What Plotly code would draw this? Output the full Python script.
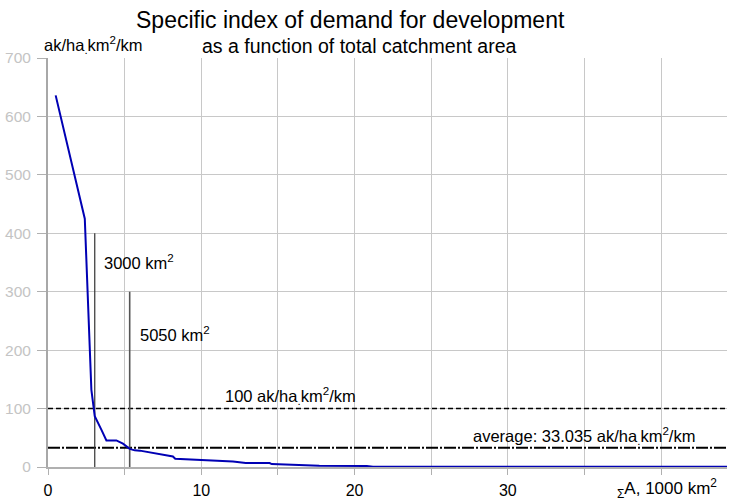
import plotly.graph_objects as go

# ---- data ----
area_k = [0.5, 2.4, 2.83, 3.05, 3.48, 3.81, 4.46, 4.89, 5.33, 5.66, 6.0, 6.85, 8.15, 8.3,
          12.07, 12.9, 14.46, 14.6, 16.6, 17.7, 20.8, 21.2, 44.3]
index_val = [636, 425, 132, 87, 64, 45.5, 45.5, 40, 31, 28.5, 28, 24, 18, 14.2,
             9.6, 6.8, 6.8, 5.0, 3.4, 2.2, 1.7, 0.3, 0.3]
threshold_level = 100
average_level = 33.035
marker_x = [3.05, 5.33]
marker_top = [400, 300]
marker_labels = ["3000 km<sup>2</sup>", "5050 km<sup>2</sup>"]
x_tickvals = [0, 5, 10, 15, 20, 25, 30, 35, 40]
x_ticktext = ["0", "", "10", "", "20", "", "30", "", ""]
y_tickvals = [0, 100, 200, 300, 400, 500, 600, 700]
x_max = 44.3
y_max = 700

FONT = "Liberation Sans, Arial, sans-serif"
unit = "ak/ha<sub>.</sub>km<sup>2</sup>/km"

fig = go.Figure()

# horizontal reference lines
fig.add_trace(go.Scatter(x=[0, x_max], y=[threshold_level, threshold_level], mode="lines",
                         line=dict(color="black", width=1.5, dash="5px,3px"),
                         hoverinfo="skip", showlegend=False))
fig.add_trace(go.Scatter(x=[0, x_max], y=[average_level, average_level], mode="lines",
                         line=dict(color="black", width=2, dash="12px,2px,2px,2px"),
                         hoverinfo="skip", showlegend=False))
# vertical markers
fig.add_trace(go.Scatter(x=[marker_x[0], marker_x[0]], y=[0, marker_top[0]], mode="lines",
                         line=dict(color="#333333", width=1.2), showlegend=False, hoverinfo="skip"))
fig.add_trace(go.Scatter(x=[marker_x[1], marker_x[1]], y=[0, marker_top[1]], mode="lines",
                         line=dict(color="#555555", width=1.6), showlegend=False, hoverinfo="skip"))

# main curve
fig.add_trace(go.Scatter(x=area_k, y=index_val, mode="lines",
                         line=dict(color="#0000b4", width=2), showlegend=False))

def px_x(p):
    return (p - 48) / 679

def px_y(p):
    return (467.3 - p) / 408.8

annotations = [
    dict(text="Specific index of demand for development", xref="paper", yref="paper",
         x=px_x(134), y=px_y(21), xanchor="left", yanchor="middle",
         showarrow=False, font=dict(family=FONT, size=23, color="black")),
    dict(text="as a function of total catchment area", xref="paper", yref="paper",
         x=px_x(200), y=px_y(47), xanchor="left", yanchor="middle",
         showarrow=False, font=dict(family=FONT, size=19.5, color="black")),
    dict(text=unit, xref="paper", yref="paper",
         x=px_x(42), y=px_y(46), xanchor="left", yanchor="middle",
         showarrow=False, font=dict(family=FONT, size=16.5, color="black")),
    dict(text="<sub>Σ</sub>A, 1000 km<sup>2</sup>", xref="paper", yref="paper",
         x=px_x(615), y=px_y(489), xanchor="left", yanchor="middle",
         showarrow=False, font=dict(family=FONT, size=17, color="black")),
    dict(text=marker_labels[0], x=3.5, y=351, xanchor="left", yanchor="middle",
         showarrow=False, font=dict(family=FONT, size=16.5, color="black")),
    dict(text=marker_labels[1], x=5.9, y=228, xanchor="left", yanchor="middle",
         showarrow=False, font=dict(family=FONT, size=16.5, color="black")),
    dict(text="100 " + unit, x=11.4, y=121, xanchor="left", yanchor="middle",
         showarrow=False, font=dict(family=FONT, size=16.5, color="black")),
    dict(text="average: 33.035 " + unit, x=27.6, y=53, xanchor="left", yanchor="middle",
         showarrow=False, font=dict(family=FONT, size=16.5, color="black")),
]

fig.update_layout(
    width=730, height=499,
    margin=dict(l=48, r=3, t=58, b=32, pad=0, autoexpand=False),
    paper_bgcolor="white", plot_bgcolor="white",
    annotations=annotations,
    font=dict(family=FONT),
    xaxis=dict(range=[0, x_max], tickvals=x_tickvals, ticktext=x_ticktext,
               automargin=False,
               showgrid=True, gridcolor="#c8c8c8", gridwidth=1,
               ticks="outside", ticklen=6, tickcolor="#b0b0b0", tickwidth=1,
               showline=True, linecolor="#b0b0b0", linewidth=1.5,
               zeroline=False, ticklabelstandoff=2,
               tickfont=dict(family=FONT, size=16, color="black")),
    yaxis=dict(range=[0, y_max], tickvals=y_tickvals,
               automargin=False,
               showgrid=True, gridcolor="#c8c8c8", gridwidth=1,
               ticks="outside", ticklen=9, tickcolor="#b0b0b0", tickwidth=1,
               showline=True, linecolor="#a8a8a8", linewidth=2,
               zeroline=False, ticklabelstandoff=3,
               tickfont=dict(family=FONT, size=15.5, color="#c4c4c4")),
)

fig.write_html("out.html", config={"displayModeBar": False},
               post_script="document.body.style.margin='0px';document.body.style.overflow='hidden';")
